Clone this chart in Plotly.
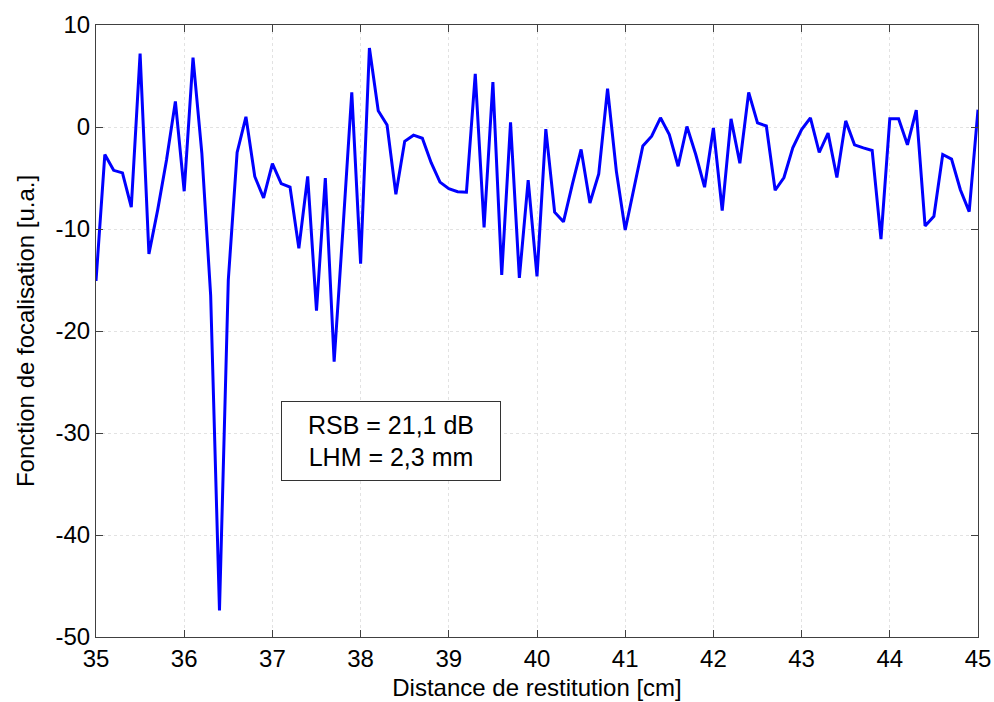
import plotly.graph_objects as go

distance_cm = [round(35 + 0.1 * i, 1) for i in range(101)]
focalisation = [
    -15.1, -2.7, -4.25, -4.5, -7.85, 7.2, -12.45, -8.1, -3.2, 2.5,
    -6.3, 6.8, -2.55, -16.5, -47.4, -15.0, -2.5, 1.0, -4.85, -6.95,
    -3.6, -5.55, -5.9, -11.9, -4.85, -18.0, -5.0, -23.0, -10.0, 3.4,
    -13.4, 7.75, 1.6, 0.2, -6.6, -1.4, -0.8, -1.1, -3.5, -5.4,
    -6.05, -6.35, -6.4, 5.2, -9.85, 4.4, -14.5, 0.45, -14.8, -5.2,
    -14.65, -0.2, -8.35, -9.3, -5.65, -2.2, -7.45, -4.6, 3.75, -4.35,
    -10.1, -5.8, -1.85, -0.9, 0.9, -0.75, -3.85, 0.05, -2.7, -5.9,
    -0.1, -8.2, 0.8, -3.55, 3.4, 0.4, 0.1, -6.2, -4.95, -2.05,
    -0.25, 0.9, -2.5, -0.6, -4.95, 0.6, -1.75, -2.05, -2.3, -11.0,
    0.8, 0.8, -1.75, 1.65, -9.7, -8.75, -2.7, -3.15, -6.15, -8.3,
    1.7,
]
x_ticks = [35, 36, 37, 38, 39, 40, 41, 42, 43, 44, 45]
x_tick_labels = ["35", "36", "37", "38", "39", "40", "41", "42", "43", "44", "45"]
y_ticks = [10, 0, -10, -20, -30, -40, -50]
y_tick_labels = ["10", "0", "-10", "-20", "-30", "-40", "-50"]
annotation_text = "RSB = 21,1 dB<br>LHM = 2,3 mm"

FONT = "Liberation Sans, Arial, sans-serif"

fig = go.Figure()
fig.add_trace(go.Scatter(
    x=distance_cm, y=focalisation, mode="lines",
    line=dict(color="#0000ff", width=3), showlegend=False,
))

axis_common = dict(
    showline=True, linecolor="#404040", linewidth=1, mirror="ticks",
    ticks="inside", ticklen=7, tickcolor="#404040",
    showgrid=True, gridcolor="#e2e2e2", griddash="dot", gridwidth=1,
    zeroline=False, automargin=False,
    tickfont=dict(family=FONT, size=24, color="black"),
)

fig.update_xaxes(
    range=[35, 45], tickvals=x_ticks, ticktext=x_tick_labels,
    title=dict(text="Distance de restitution [cm]", standoff=8,
               font=dict(family=FONT, size=24, color="black")),
    **axis_common,
)
fig.update_yaxes(
    range=[-50, 10], tickvals=y_ticks, ticktext=y_tick_labels,
    title=dict(text="Fonction de focalisation [u.a.]", standoff=14,
               font=dict(family=FONT, size=24, color="black")),
    **axis_common,
)

fig.add_annotation(
    x=38.34, y=-30.75, xref="x", yref="y", text=annotation_text,
    showarrow=False, align="center",
    font=dict(family=FONT, size=25, color="black"),
    bgcolor="white", bordercolor="#333333", borderwidth=1,
    width=218, height=78, borderpad=0,
)

fig.update_layout(
    width=994, height=702,
    margin=dict(l=96, r=16, t=25, b=65),
    paper_bgcolor="white", plot_bgcolor="white",
)

fig.write_html(
    "out.html",
    config={"displayModeBar": False},
    post_script=(
        "document.body.style.margin='0';"
        "document.body.style.overflow='hidden';"
        "document.documentElement.style.overflow='hidden';"
    ),
)
